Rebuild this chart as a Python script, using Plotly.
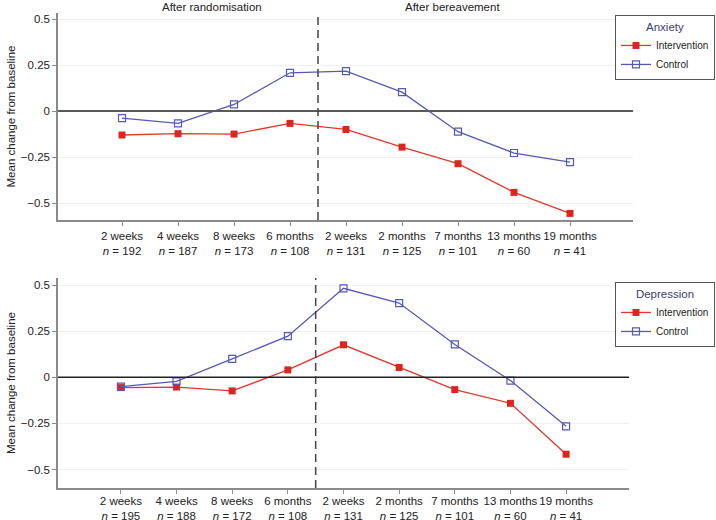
import plotly.graph_objects as go

# ---- data ----
anx_labels = ["2 weeks", "4 weeks", "8 weeks", "6 months", "2 weeks", "2 months", "7 months", "13 months", "19 months"]
anx_n = [192, 187, 173, 108, 131, 125, 101, 60, 41]
anx_intervention = [-0.130, -0.123, -0.125, -0.067, -0.100, -0.196, -0.286, -0.442, -0.556]
anx_control = [-0.038, -0.067, 0.036, 0.208, 0.217, 0.103, -0.112, -0.228, -0.277]

dep_labels = ["2 weeks", "4 weeks", "8 weeks", "6 months", "2 weeks", "2 months", "7 months", "13 months", "19 months"]
dep_n = [195, 188, 172, 108, 131, 125, 101, 60, 41]
dep_intervention = [-0.056, -0.053, -0.074, 0.040, 0.176, 0.053, -0.067, -0.141, -0.417]
dep_control = [-0.051, -0.022, 0.100, 0.223, 0.482, 0.402, 0.178, -0.018, -0.266]

ytick_vals = [-0.5, -0.25, 0, 0.25, 0.5]
ytick_text = ["\u22120.5", "\u22120.25", "0", "0.25", "0.5"]

RED_LINE = "#e3372e"
RED_MARK = "#d9261f"
BLUE = "#5659b2"
FONT = "Liberation Sans, Arial, Helvetica, sans-serif"
FS = 11.5

W, H = 716, 520
xs = list(range(len(anx_labels)))

def ticktexts(labels, ns):
    return [f"{l}<br><i>n</i> = {n}" for l, n in zip(labels, ns)]

fig = go.Figure()

def add_panel(xa, ya, leg, inter, ctrl):
    fig.add_trace(go.Scatter(
        x=xs, y=inter, mode="lines+markers", name="Intervention",
        xaxis=xa, yaxis=ya, legend=leg,
        line=dict(color=RED_LINE, width=1.3),
        marker=dict(symbol="square", size=7, color=RED_MARK, line=dict(width=0)),
    ))
    fig.add_trace(go.Scatter(
        x=xs, y=ctrl, mode="lines+markers", name="Control",
        xaxis=xa, yaxis=ya, legend=leg,
        line=dict(color=BLUE, width=1.3),
        marker=dict(symbol="square-open", size=7, color=BLUE, line=dict(width=1.2)),
    ))

add_panel("x", "y", "legend", anx_intervention, anx_control)
add_panel("x2", "y2", "legend2", dep_intervention, dep_control)

axis_common = dict(
    showline=True, linecolor="#8a8a8a", linewidth=1.5,
    ticks="outside", ticklen=4, tickcolor="#8a8a8a", tickwidth=1,
    tickfont=dict(family=FONT, size=FS, color="#222"),
    zeroline=False, mirror=False, automargin=False,
)

legend_common = dict(
    xanchor="right", yanchor="top",
    bgcolor="white", bordercolor="#555", borderwidth=1,
    font=dict(family=FONT, size=10, color="#222"),
    itemwidth=30, tracegroupgap=0,
)

ytitle = dict(text="Mean change from baseline", font=dict(family=FONT, size=FS, color="#222"), standoff=3)

fig.update_layout(
    width=W, height=H,
    margin=dict(l=0, r=0, t=0, b=0, autoexpand=False),
    paper_bgcolor="white", plot_bgcolor="white",
    font=dict(family=FONT, size=FS, color="#222"),
    xaxis=dict(domain=[58 / W, 633 / W], range=[-1.143, 9.125], anchor="y", tickangle=0,
               ticklabelstandoff=0,
               tickvals=xs, ticktext=ticktexts(anx_labels, anx_n), showgrid=False, **axis_common),
    yaxis=dict(domain=[1 - 220 / H, 1 - 13 / H], range=[-0.592, 0.533], anchor="x",
               tickvals=ytick_vals, ticktext=ytick_text, showgrid=True, gridcolor="#f0f0f0",
               title=ytitle, **axis_common),
    xaxis2=dict(domain=[58 / W, 629 / W], range=[-1.13, 9.13], anchor="y2", tickangle=0,
                ticklabelstandoff=-3,
                tickvals=xs, ticktext=ticktexts(dep_labels, dep_n), showgrid=False, **axis_common),
    yaxis2=dict(domain=[1 - 488 / H, 1 - 278 / H], range=[-0.60, 0.538], anchor="x2",
                tickvals=ytick_vals, ticktext=ytick_text, showgrid=True, gridcolor="#f0f0f0",
                title=ytitle, **axis_common),
    legend=dict(
        x=1 - 1 / W, y=1 - 15 / H,
        title=dict(text="Anxiety", side="top center", font=dict(family=FONT, size=FS, color="#3b4070")),
        **legend_common,
    ),
    legend2=dict(
        x=1 - 1 / W, y=1 - 282 / H,
        title=dict(text="Depression", side="top center", font=dict(family=FONT, size=FS, color="#3b4070")),
        **legend_common,
    ),
    showlegend=True,
)

# zero reference lines
fig.add_shape(type="line", xref="x domain", yref="y", x0=0, x1=1, y0=0, y1=0,
              line=dict(color="#5a5a5a", width=2), layer="above")
fig.add_shape(type="line", xref="x2 domain", yref="y2", x0=0, x1=1, y0=0, y1=0,
              line=dict(color="#222", width=1.5), layer="above")

# dashed separators between randomisation and bereavement periods
for xr, yr in (("x", "y domain"), ("x2", "y2 domain")):
    fig.add_shape(type="line", xref=xr, yref=yr, x0=3.5, x1=3.5, y0=0, y1=1,
                  line=dict(color="#444", width=1.5, dash="8px,5px"))

# period headings
fig.add_annotation(text="After randomisation", x=1.6, xref="x", y=1, yref="paper",
                   yanchor="top", yshift=1, showarrow=False,
                   font=dict(family=FONT, size=FS, color="#222"))
fig.add_annotation(text="After bereavement", x=5.91, xref="x", y=1, yref="paper",
                   yanchor="top", yshift=1, showarrow=False,
                   font=dict(family=FONT, size=FS, color="#222"))

fig.write_html("out.html", config={"displayModeBar": False},
               post_script="document.body.style.margin='0';document.body.style.overflow='hidden';")
